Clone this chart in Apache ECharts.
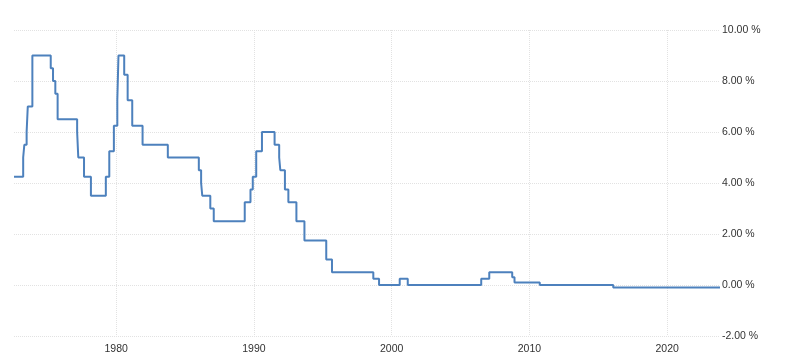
<!DOCTYPE html>
<html><head><meta charset="utf-8">
<script src="https://cdn.jsdelivr.net/npm/echarts@6/dist/echarts.min.js"></script>
<style>html,body{margin:0;padding:0;background:#fff}#c{width:800px;height:364px}</style>
</head><body><div id="c"></div>
<script>
// Change dates (rate applies from this month on) and rates in %
var changeDates = ['1972-08','1973-04','1973-05','1973-07','1973-08','1973-12','1975-04','1975-06','1975-08','1975-10',
  '1977-03','1977-04','1977-09','1978-03','1979-04','1979-07','1979-11','1980-02','1980-03','1980-08','1980-11',
  '1981-03','1981-12','1983-10','1986-01','1986-03','1986-04','1986-11','1987-02','1989-05','1989-10','1989-12',
  '1990-03','1990-08','1991-07','1991-11','1991-12','1992-04','1992-07','1993-02','1993-09','1995-04','1995-09',
  '1998-09','1999-02','2000-08','2001-03','2006-07','2007-02','2008-10','2008-12','2010-10','2016-02','2023-11'];
var rates = [4.25,5.0,5.5,6.0,7.0,9.0,8.5,8.0,7.5,6.5,
  6.0,5.0,4.25,3.5,4.25,5.25,6.25,7.25,9.0,8.25,7.25,
  6.25,5.5,5.0,4.5,4.0,3.5,3.0,2.5,3.25,3.75,4.25,
  5.25,6.0,5.5,5.0,4.5,3.75,3.25,2.5,1.75,1.0,0.5,
  0.25,0.0,0.25,0.0,0.25,0.5,0.3,0.1,0.0,-0.1,-0.1];
var yearTicks = [1980,1990,2000,2010,2020];
var yTicks = [-2,0,2,4,6,8,10];

function toYear(s){var p=s.split('-');return +p[0]+(+p[1]-1)/12;}
var data = changeDates.map(function(d,i){return [toYear(d), rates[i]];});
var xMin = data[0][0], xMax = data[data.length-1][0];

var chart = echarts.init(document.getElementById('c'));
var grid = {type:'dotted', color:'#e2e2e2', width:1};
chart.setOption({
  animation:false,
  grid:{left:14, right:80, top:30, bottom:28},
  xAxis:{type:'value', min:xMin, max:xMax,
    axisLine:{show:false}, axisTick:{show:false, customValues:yearTicks},
    axisLabel:{customValues:yearTicks, formatter:function(v){return String(Math.round(v));},
      color:'#333', fontSize:10.5, fontFamily:'Liberation Sans, Arial', margin:8},
    splitLine:{show:true, lineStyle:grid}},
  yAxis:{type:'value', position:'right', min:yTicks[0], max:yTicks[yTicks.length-1], interval:2,
    axisLine:{show:false}, axisTick:{show:false},
    axisLabel:{formatter:function(v){return v.toFixed(2)+' %';}, color:'#333', fontSize:10.5,
      fontFamily:'Liberation Sans, Arial', margin:2},
    splitLine:{show:true, lineStyle:grid}},
  series:[{type:'line', step:'end', data:data, showSymbol:false,
    lineStyle:{color:'#4d81bd', width:2}}]
});
</script></body></html>
